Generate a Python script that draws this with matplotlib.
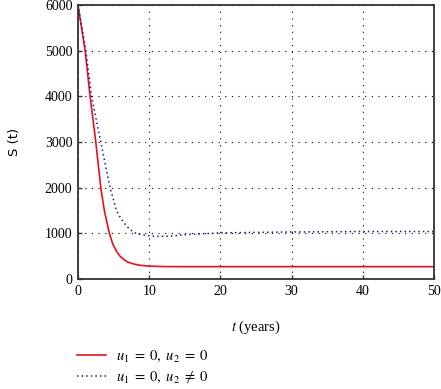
import numpy as np
import matplotlib.pyplot as plt

plt.rcParams['font.family'] = 'Liberation Serif'
plt.rcParams['mathtext.fontset'] = 'stix'

# values
t_red = [0, 0.5, 1.0, 1.7, 2.5, 3.2, 3.7, 4.4, 4.9, 5.4, 5.9, 6.4, 7.0, 7.8, 8.7, 10, 12, 15, 20, 30, 40, 50]
s_red = [6000, 5500, 5000, 4000, 3000, 2000, 1500, 1000, 760, 610, 500, 430, 370, 330, 300, 282, 272, 270, 270, 270, 270, 270]

t_blue = [0, 0.5, 1.1, 1.9, 3.2, 4.5, 5.4, 6.0, 6.6, 7.2, 8.0, 9.0, 10, 11, 12, 13, 15, 20, 25, 30, 40, 50]
s_blue = [6000, 5550, 5000, 4000, 3000, 2000, 1500, 1330, 1200, 1100, 1010, 965, 945, 937, 935, 940, 970, 1010, 1020, 1030, 1040, 1040]

W, H = 441, 389
fig = plt.figure(figsize=(W / 100, H / 100), dpi=100)
ax = fig.add_axes([78 / W, 1 - 279 / H, 356 / W, 274 / H])

ax.plot(t_red, s_red, color='#e8101e', lw=1.2, label=r'$u_1\;=\;0,\ u_2\;=\;0$')
ax.plot(t_blue, s_blue, color='#1c1c8a', lw=1.1, ls=(0, (1, 2.0)),
        label=r'$u_1\;=\;0,\ u_2\;\neq\;0$')

ax.set_xlim(0, 50)
ax.set_ylim(0, 6000)
ax.set_xticks(np.arange(0, 51, 10))
ax.set_yticks(np.arange(0, 6001, 1000))
ax.grid(True, color='black', ls=(0, (1, 5)), lw=0.8)
ax.tick_params(direction='in', labelsize=10, length=3, width=1, color='#333333', pad=4)
for sp in ax.spines.values():
    sp.set_linewidth(1.3)
    sp.set_color('#333333')

ax.set_xlabel(r'$t$ (years)', fontsize=10.5, labelpad=15)
ax.set_ylabel('S (t)', fontsize=9.5, family='DejaVu Sans', labelpad=17)

fig.legend(loc='upper left', bbox_to_anchor=(77 / W, 1 - 349 / H), frameon=False,
           fontsize=10.5, handlelength=2.0, handletextpad=0.7, labelspacing=0.3,
           borderpad=0, borderaxespad=0)

fig.savefig('out.png', dpi=100)
